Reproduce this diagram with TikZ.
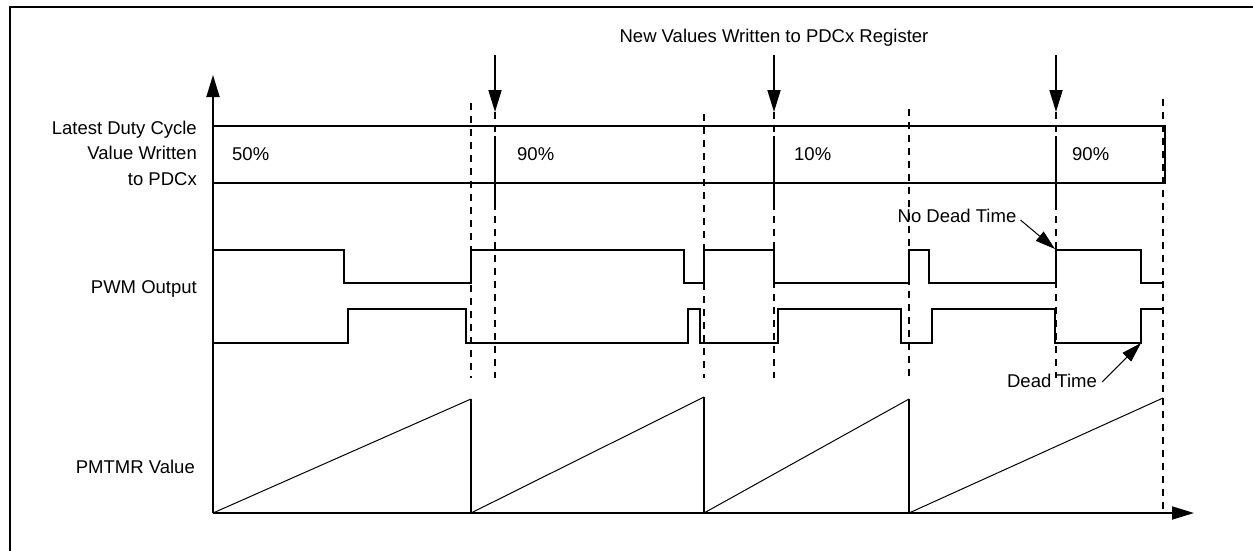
\documentclass[tikz,border=0pt]{standalone}
\usepackage{fontspec}
\setmainfont{Liberation Sans}
\usetikzlibrary{arrows.meta}
\begin{document}
\begin{tikzpicture}[x=1pt,y=-1pt,
  lbl/.style={font=\fontsize{18.5}{25.5}\selectfont, inner sep=0pt},
  wave/.style={line width=1.8pt, line join=miter},
  ramp/.style={line width=1pt},
  dsh/.style={line width=1.8pt, dash pattern=on 7pt off 6pt},
  arr/.style={-{Triangle[length=22pt,width=13pt]}, line width=1.8pt},
  darr/.style={-{Triangle[length=20pt,width=12pt]}, line width=1pt}]
\useasboundingbox (0,0) rectangle (1253,550);
\fill[white] (0,0) rectangle (1253,550);
% frame
\draw[line width=2.5pt] (10,552) -- (10,7) -- (1255,7);
% axes
\coordinate (O) at (213,513);
\coordinate (ytip) at (213,75);
\coordinate (xtip) at (1194,513);
\draw[arr] (O) -- (ytip);
\draw[arr] (O) -- (xtip);
% duty cycle band
\draw[wave] (213,126) -- (1165,126) -- (1165,183) -- (213,183);
% new value arrows
\node[lbl] (nv) at (774,38) {New Values Written to PDCx Register};
\foreach \x/\n in {495/a,774/b,1056/c}{
  \coordinate (top\n) at (\x,55);
  \coordinate (tip\n) at (\x,112);
  \draw[arr] (top\n) -- (tip\n);
  \draw[dsh] (tip\n) -- (\x,378);
  \draw[wave] (\x,136) -- (\x,205);
}
% period boundaries
\draw[dsh] (471,103) -- (471,378);
\draw[dsh] (704,114) -- (704,378);
\draw[dsh] (909,109) -- (909,378);
\draw[dsh] (1163,99) -- (1163,513);
% PWM upper
\draw[wave] (213,250) -- (344,250) -- (344,283) -- (471,283) -- (471,250) -- (684,250) -- (684,283) -- (704,283) -- (704,250) -- (774,250) -- (774,283) -- (909,283) -- (909,250) -- (929,250) -- (929,283) -- (1056,283) -- (1056,250) -- (1141,250) -- (1141,283) -- (1164,283);
% PWM lower
\draw[wave] (213,343) -- (348,343) -- (348,309) -- (466,309) -- (466,343) -- (688,343) -- (688,309) -- (700,309) -- (700,343) -- (778,343) -- (778,309) -- (901,309) -- (901,343) -- (932,343) -- (932,309) -- (1055,309) -- (1055,343) -- (1141,343) -- (1141,309) -- (1164,309);
% PMTMR ramps
\draw[ramp] (213,513) -- (471,399); \draw[wave] (471,399) -- (471,513);
\draw[ramp] (471,513) -- (704,397); \draw[wave] (704,397) -- (704,513);
\draw[ramp] (704,513) -- (909,399); \draw[wave] (909,399) -- (909,513);
\draw[ramp] (909,513) -- (1163,398);
% labels
\node[lbl, anchor=east, align=right] (ldc) at (197,153) {Latest Duty Cycle\\Value Written\\to PDCx};
\node[lbl, anchor=west] (v1) at (232,154) {50\%};
\node[lbl, anchor=west] (v2) at (517,154) {90\%};
\node[lbl, anchor=west] (v3) at (794,154) {10\%};
\node[lbl, anchor=west] (v4) at (1072,154) {90\%};
\node[lbl, anchor=east] (pwm) at (197,289) {PWM Output};
\node[lbl, anchor=east] (pmt) at (195,467) {PMTMR Value};
% dead time annotations
\node[lbl] (ndt) at (957,216) {No Dead Time};
\coordinate (ndtTip) at (1055,249);
\draw[darr] ([shift={(4,4)}]ndt.east) -- (ndtTip);
\node[lbl] (dt) at (1052,381) {Dead Time};
\coordinate (dtTip) at (1141,343);
\draw[darr] ([shift={(5,1)}]dt.east) -- (dtTip);
\end{tikzpicture}
\end{document}
